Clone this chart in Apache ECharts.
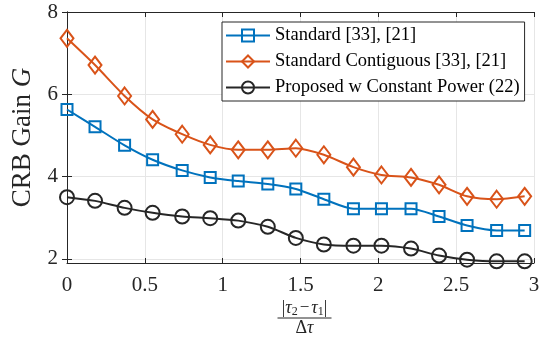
<!DOCTYPE html>
<html>
<head>
<meta charset="utf-8">
<script src="https://cdn.jsdelivr.net/npm/echarts@6/dist/echarts.min.js"></script>
<style>
  html, body { margin: 0; padding: 0; background: #fff; }
  #chart { width: 554px; height: 337px; }
</style>
</head>
<body>
<div id="chart"></div>
<script>
// x positions |tau2 - tau1| / delta tau
var xVals = [0, 0.18, 0.37, 0.55, 0.74, 0.92, 1.10, 1.29, 1.47, 1.65, 1.84, 2.02, 2.21, 2.39, 2.57, 2.76, 2.94];
// Standard [33], [21]
var standard = [5.63, 5.21, 4.76, 4.41, 4.15, 3.98, 3.89, 3.82, 3.70, 3.45, 3.22, 3.22, 3.22, 3.03, 2.81, 2.69, 2.69];
// Standard Contiguous [33], [21]
var contiguous = [7.36, 6.71, 5.96, 5.39, 5.03, 4.77, 4.65, 4.65, 4.69, 4.53, 4.23, 4.04, 3.98, 3.80, 3.52, 3.45, 3.52];
// Proposed w Constant Power (22)
var proposed = [3.50, 3.41, 3.24, 3.12, 3.03, 2.99, 2.93, 2.78, 2.51, 2.35, 2.32, 2.32, 2.25, 2.08, 1.98, 1.94, 1.94];

var yTicks = [2, 4, 6, 8];
var names = ['Standard [33], [21]', 'Standard Contiguous [33], [21]', 'Proposed w Constant Power (22)'];

var serif = '"Liberation Serif", "DejaVu Serif", serif';
var axisColor = '#262626';

function pairs(ys) {
  return ys.map(function (y, i) { return [xVals[i], y]; });
}

function makeSeries(name, ys, color, symbol, size) {
  return {
    name: name,
    type: 'line',
    data: pairs(ys),
    smooth: 0.25,
    symbol: symbol,
    symbolSize: size,
    showAllSymbol: true,
    lineStyle: { color: color, width: 2 },
    itemStyle: { color: 'rgba(255,255,255,0)', borderColor: color, borderWidth: 2 },
    emphasis: { disabled: true },
    z: 3
  };
}

var chart = echarts.init(document.getElementById('chart'), null, { renderer: 'canvas' });

var option = {
  animation: false,
  grid: { left: 67, right: 20, top: 12, bottom: 74 },
  legend: {
    orient: 'vertical',
    left: 222,
    top: 22,
    padding: [4, 5, 4, 3],
    itemWidth: 44,
    itemHeight: 15,
    itemGap: 7,
    backgroundColor: '#fff',
    borderColor: axisColor,
    borderWidth: 1,
    textStyle: { fontFamily: serif, fontSize: 18.5, color: '#000' },
    data: names
  },
  xAxis: [{
    type: 'value',
    min: 0, max: 3, interval: 0.5,
    axisLine: { lineStyle: { color: axisColor, width: 1 } },
    axisTick: { inside: true, length: 5, lineStyle: { color: axisColor } },
    axisLabel: { fontFamily: serif, fontSize: 21, color: '#262626', margin: 12 },
    splitLine: { show: true, lineStyle: { color: '#e6e6e6', width: 1 } }
  }, {
    type: 'value',
    position: 'top',
    min: 0, max: 3, interval: 0.5,
    axisLine: { show: true, lineStyle: { color: axisColor, width: 1 } },
    axisTick: { show: true, inside: true, length: 5, lineStyle: { color: axisColor } },
    axisLabel: { show: false },
    splitLine: { show: false }
  }],
  yAxis: [{
    type: 'value',
    min: 1.9, max: 8,
    axisLine: { show: true, lineStyle: { color: axisColor, width: 1 } },
    axisTick: { show: true, inside: true, length: 5, customValues: yTicks, lineStyle: { color: axisColor } },
    axisLabel: { fontFamily: serif, fontSize: 21, color: '#262626', margin: 9, customValues: yTicks },
    splitLine: { show: true, lineStyle: { color: '#e6e6e6', width: 1 } },
    name: '{n|CRB Gain }{i|G}',
    nameLocation: 'middle',
    nameRotate: 90,
    nameGap: 27,
    nameTextStyle: {
      rich: {
        n: { fontFamily: serif, fontSize: 27, color: '#262626' },
        i: { fontFamily: serif, fontSize: 27, fontStyle: 'italic', color: '#262626' }
      }
    }
  }, {
    type: 'value',
    position: 'right',
    min: 1.9, max: 8,
    axisLine: { show: true, lineStyle: { color: axisColor, width: 1 } },
    axisTick: { show: true, inside: true, length: 5, customValues: yTicks, lineStyle: { color: axisColor } },
    axisLabel: { show: false, customValues: yTicks },
    splitLine: { show: false }
  }],
  graphic: [{
    type: 'group',
    left: 275,
    top: 299,
    children: [{
      type: 'text',
      x: 27, y: 0,
      style: {
        text: '{b||}{t|τ}{s|2}{o|−}{t|τ}{s|1}{b||}',
        align: 'center',
        rich: {
          b: { font: '18px ' + serif, fill: '#262626', lineHeight: 20, verticalAlign: 'middle' },
          t: { font: 'italic 18px ' + serif, fill: '#262626', lineHeight: 20, verticalAlign: 'middle' },
          o: { font: '17px ' + serif, fill: '#262626', lineHeight: 20, verticalAlign: 'middle', padding: [0, 2, 0, 2] },
          s: { font: '12px ' + serif, fill: '#262626', lineHeight: 20, verticalAlign: 'bottom', padding: [6, 0, 0, 0] }
        }
      }
    }, {
      type: 'line',
      shape: { x1: 0, y1: 20, x2: 54, y2: 20 },
      style: { stroke: '#262626', lineWidth: 1 }
    }, {
      type: 'text',
      x: 27, y: 21,
      style: {
        text: '{d|Δ}{t|τ}',
        align: 'center',
        rich: {
          d: { font: '18px ' + serif, fill: '#262626' },
          t: { font: 'italic 18px ' + serif, fill: '#262626' }
        }
      }
    }]
  }],
  series: [
    makeSeries(names[0], standard, '#0072BD', 'rect', 11),
    makeSeries(names[1], contiguous, '#D95319', 'diamond', [13, 17]),
    makeSeries(names[2], proposed, '#262626', 'circle', 14)
  ]
};

chart.setOption(option);
</script>
</body>
</html>
